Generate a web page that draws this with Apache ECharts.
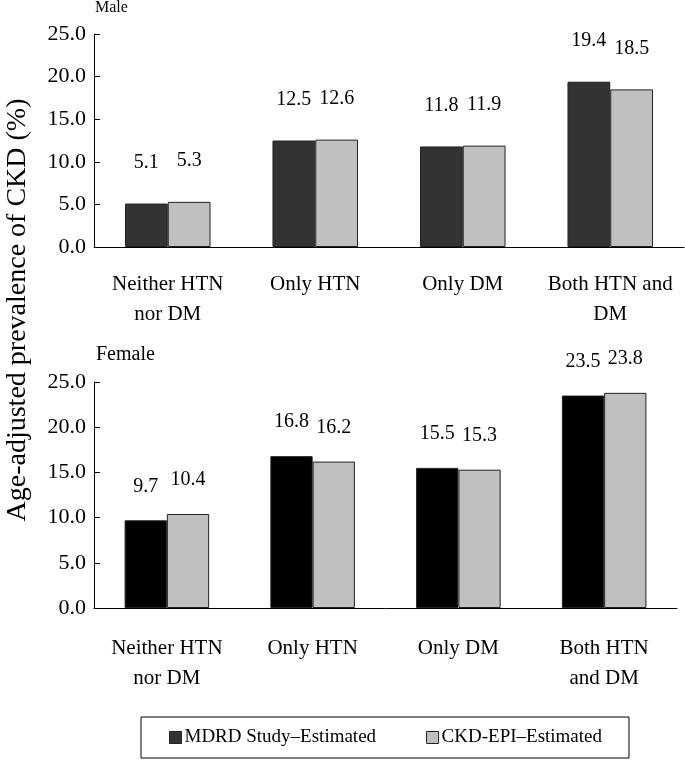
<!DOCTYPE html>
<html>
<head>
<meta charset="utf-8">
<script src="https://cdn.jsdelivr.net/npm/echarts@6/dist/echarts.min.js"></script>
<style>html,body{margin:0;padding:0;background:#fff}#c{width:685px;height:760px}</style>
</head>
<body>
<div id="c"></div>
<script>
const categoriesTop = ['Neither HTN\nnor DM', 'Only HTN', 'Only DM', 'Both HTN and\nDM'];
const categoriesBottom = ['Neither HTN\nnor DM', 'Only HTN', 'Only DM', 'Both HTN\nand DM'];
const maleMDRD = [5.1, 12.5, 11.8, 19.4];
const maleEPI = [5.3, 12.6, 11.9, 18.5];
const femaleMDRD = [9.7, 16.8, 15.5, 23.5];
const femaleEPI = [10.4, 16.2, 15.3, 23.8];
const seriesNames = ['MDRD Study\u2013Estimated', 'CKD-EPI\u2013Estimated'];
const panelTitles = ['Male', 'Female'];
const yTitle = 'Age-adjusted prevalence of CKD (%)';

const FONT = '"Liberation Serif", "Times New Roman", serif';
const chart = echarts.init(document.getElementById('c'), null, {renderer: 'canvas'});

function xAx(idx, cats, margin) {
  return {
    type: 'category', gridIndex: idx, data: cats,
    axisLine: {lineStyle: {color: '#000', width: 1}},
    axisTick: {inside: true, length: 6, lineStyle: {color: '#000'}},
    axisLabel: {interval: 0, margin: margin, color: '#000', fontFamily: FONT, fontSize: 21, lineHeight: 30}
  };
}
function yAx(idx) {
  return {
    type: 'value', gridIndex: idx, min: 0, max: 25, interval: 5,
    axisLine: {show: true, lineStyle: {color: '#000', width: 1}},
    axisTick: {show: true, inside: true, length: 6, lineStyle: {color: '#000'}},
    splitLine: {show: false},
    axisLabel: {margin: 8, color: '#000', fontFamily: FONT, fontSize: 22, formatter: v => v.toFixed(1)}
  };
}
function bar(name, idx, data, color, dist) {
  return {
    name: name, type: 'bar', xAxisIndex: idx, yAxisIndex: idx, data: data,
    barGap: '0%', barCategoryGap: '42%',
    itemStyle: {color: color, borderColor: '#222', borderWidth: 1},
    label: {show: true, position: 'top', distance: dist, color: '#000', fontFamily: FONT, fontSize: 20, formatter: p => p.value.toFixed(1)}
  };
}

chart.setOption({
  animation: false,
  title: [
    {text: panelTitles[0], left: 95, top: 0, textStyle: {fontFamily: FONT, fontSize: 16, fontWeight: 'normal', color: '#000'}, padding: 0},
    {text: panelTitles[1], left: 96, top: 345, textStyle: {fontFamily: FONT, fontSize: 20, fontWeight: 'normal', color: '#000'}, padding: 0}
  ],
  graphic: [{
    type: 'text', x: 18, y: 310, rotation: Math.PI / 2,
    style: {text: yTitle, fontFamily: FONT, fontSize: 28, fill: '#000', align: 'center', verticalAlign: 'middle'}
  }],
  legend: {
    data: seriesNames, left: 141, top: 717,
    padding: [11, 27, 11, 28], itemGap: 50, itemWidth: 12, itemHeight: 12,
    borderColor: '#000', borderWidth: 1, icon: 'rect',
    itemStyle: {borderColor: '#222', borderWidth: 1},
    textStyle: {fontFamily: FONT, fontSize: 19, color: '#000', padding: [0, 0, 0, -2]}
  },
  grid: [
    {left: 94, right: 1, top: 34, height: 213},
    {left: 94, right: 8, top: 382, height: 226}
  ],
  xAxis: [xAx(0, categoriesTop, 22), xAx(1, categoriesBottom, 25)],
  yAxis: [yAx(0), yAx(1)],
  series: [
    bar(seriesNames[0], 0, maleMDRD, '#333333', 31),
    bar(seriesNames[1], 0, maleEPI, '#c0c0c0', 31),
    bar(seriesNames[0], 1, femaleMDRD, '#000000', 24),
    bar(seriesNames[1], 1, femaleEPI, '#c0c0c0', 24)
  ]
});
</script>
</body>
</html>
